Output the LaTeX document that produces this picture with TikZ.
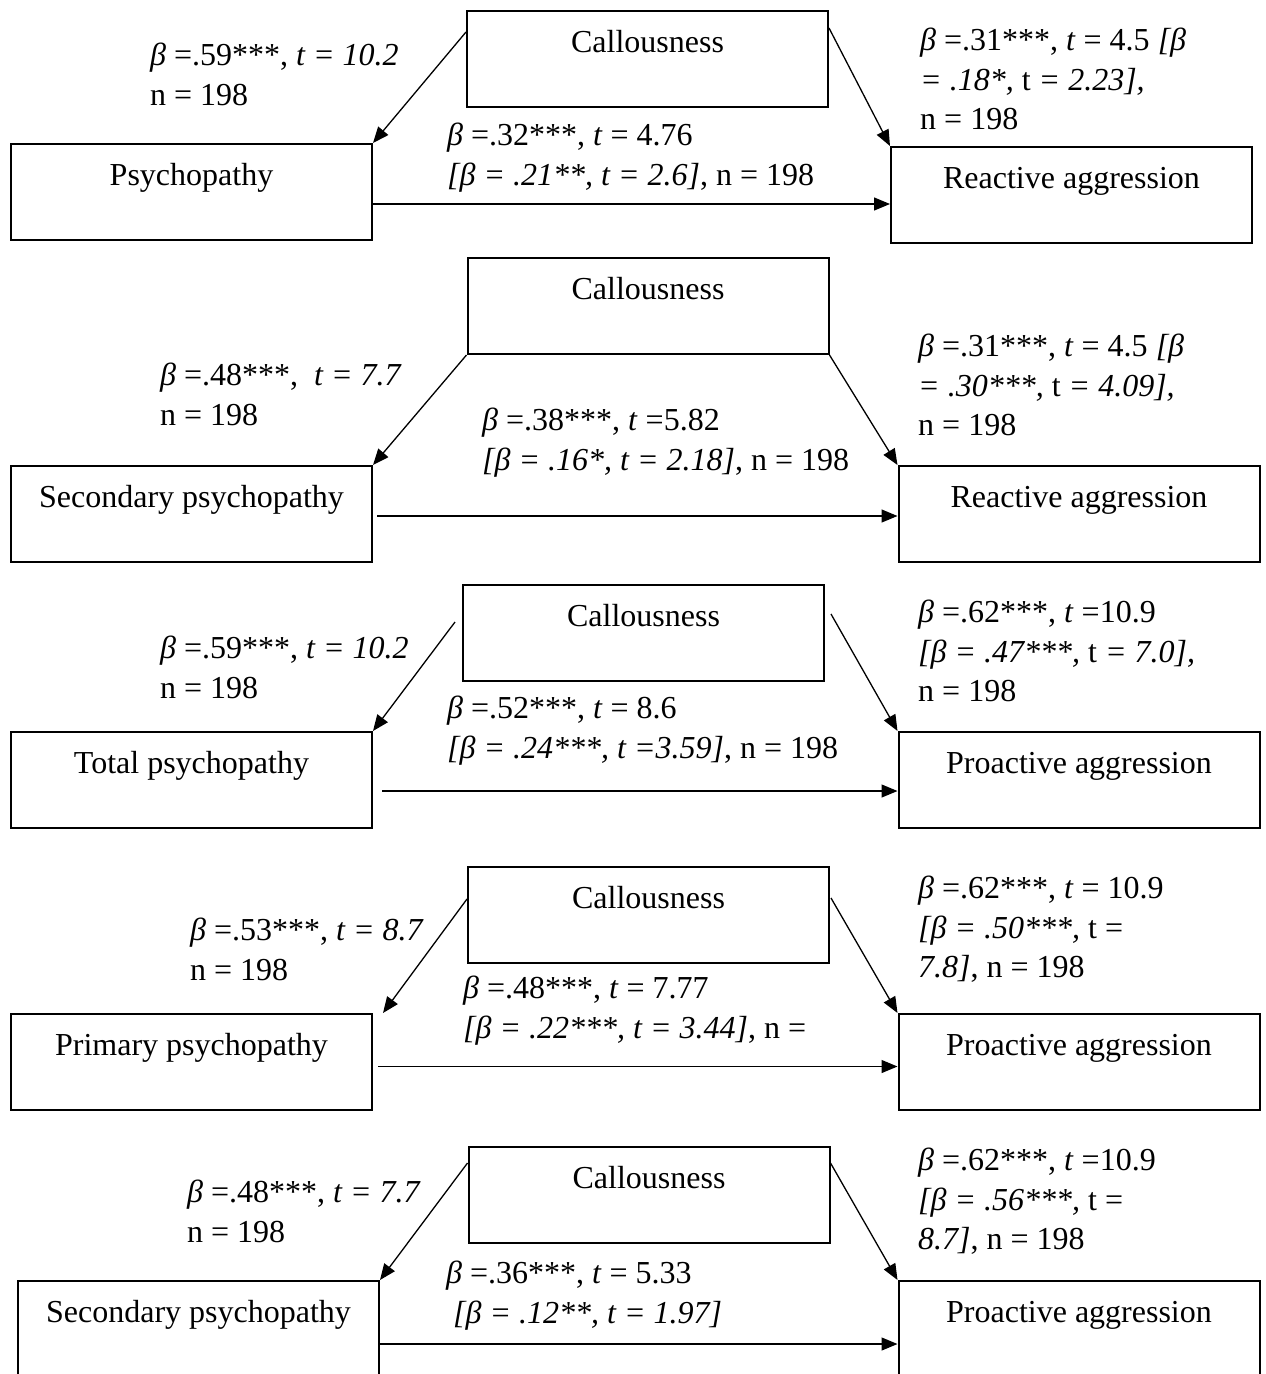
\documentclass[tikz,border=0pt]{standalone}
\usepackage{fontspec}
\setmainfont{Liberation Serif}
\usetikzlibrary{arrows.meta}
\begin{document}
\begin{tikzpicture}[x=1pt,y=-1pt,
  font=\fontsize{32}{39.5}\selectfont,
  box/.style={draw, line width=2pt, rectangle, inner sep=0pt, anchor=north,
    minimum width=361pt, text height=41pt, text depth=55pt},
  tallbox/.style={box, text depth=82pt},
  lab/.style={anchor=north west, inner sep=0pt, align=left},
  arr/.style={-{Triangle[length=16pt,width=13pt]}, line width=1.3pt}]
\fill[white] (0,0) rectangle (1266,1374);
\useasboundingbox (0,0) rectangle (1266,1374);

% ---------------- Panel 1
\node[box] (c1) at (647.5,10) {Callousness};
\node[box] (l1) at (191.5,143) {Psychopathy};
\node[box] (r1) at (1071.5,146) {Reactive aggression};
\node[lab] (a1) at (150,38) {\strut\textit{β} =.59***, \textit{t = 10.2}\\\strut n = 198};
\node[lab] (b1) at (447,118) {\strut\textit{β} =.32***, \textit{t} = 4.76\\\strut\textit{[β = .21**, t = 2.6]}, n = 198};
\node[lab] (d1) at (920,23) {\strut\textit{β} =.31***, \textit{t} = 4.5 \textit{[β}\\\strut\textit{= .18*,} t \textit{= 2.23],}\\\strut n = 198};
\draw[arr] ([yshift=-22pt]c1.north west) -- (l1.north east);
\draw[arr] ([yshift=-18pt]c1.north east) -- (r1.north west);
\coordinate (h1) at ([yshift=-12pt]l1.east);
\draw[arr] (h1) -- (h1 -| r1.west);

% ---------------- Panel 2
\node[box] (c2) at (648,257) {Callousness};
\node[box] (l2) at (191.5,465) {Secondary psychopathy};
\node[box] (r2) at (1079,465) {Reactive aggression};
\node[lab] (a2) at (160,358) {\strut\textit{β} =.48***, ~\textit{t = 7.7}\\\strut n = 198};
\node[lab] (b2) at (482,403) {\strut\textit{β} =.38***, \textit{t} =5.82\\\strut\textit{[β = .16*, t = 2.18]}, n = 198};
\node[lab] (d2) at (918,329) {\strut\textit{β} =.31***, \textit{t} = 4.5 \textit{[β}\\\strut\textit{= .30***,} t \textit{= 4.09],}\\\strut n = 198};
\draw[arr] (c2.south west) -- (l2.north east);
\draw[arr] (c2.south east) -- (r2.north west);
\coordinate (h2) at ([xshift=4pt,yshift=-2pt]l2.east);
\draw[arr] (h2) -- (h2 -| r2.west);

% ---------------- Panel 3
\node[box] (c3) at (643.5,584) {Callousness};
\node[box] (l3) at (191.5,731) {Total psychopathy};
\node[box] (r3) at (1079,731) {Proactive aggression};
\node[lab] (a3) at (160,631) {\strut\textit{β} =.59***, \textit{t = 10.2}\\\strut n = 198};
\node[lab] (b3) at (447,691) {\strut\textit{β} =.52***, \textit{t} = 8.6\\\strut\textit{[β = .24***, t =3.59]}, n = 198};
\node[lab] (d3) at (918,595) {\strut\textit{β} =.62***, \textit{t} =10.9\\\strut\textit{[β = .47***,} t \textit{= 7.0],}\\\strut n = 198};
\draw[arr] ([xshift=-7pt,yshift=-38pt]c3.north west) -- (l3.north east);
\draw[arr] ([xshift=6pt,yshift=-30pt]c3.north east) -- (r3.north west);
\coordinate (h3) at ([xshift=9pt,yshift=-11pt]l3.east);
\draw[arr] (h3) -- (h3 -| r3.west);

% ---------------- Panel 4
\node[box] (c4) at (648.5,866) {Callousness};
\node[box] (l4) at (191.5,1013) {Primary psychopathy};
\node[box] (r4) at (1079,1013) {Proactive aggression};
\node[lab] (a4) at (190,913) {\strut\textit{β} =.53***, \textit{t = 8.7}\\\strut n = 198};
\node[lab] (b4) at (463,971) {\strut\textit{β} =.48***, \textit{t} = 7.77\\\strut\textit{[β = .22***, t = 3.44]}, n =};
\node[lab] (d4) at (918,871) {\strut\textit{β} =.62***, \textit{t} = 10.9\\\strut\textit{[β = .50***,} t =\\\strut\textit{7.8]}, n = 198};
\draw[arr] ([yshift=-33pt]c4.north west) -- ([xshift=10pt]l4.north east);
\draw[arr] ([xshift=1pt,yshift=-32pt]c4.north east) -- (r4.north west);
\coordinate (h4) at ([xshift=5pt,yshift=-4.5pt]l4.east);
\draw[arr] (h4) -- (h4 -| r4.west);

% ---------------- Panel 5
\node[box] (c5) at (649,1146) {Callousness};
\node[tallbox] (l5) at (198.5,1280) {Secondary psychopathy};
\node[tallbox] (r5) at (1079,1280) {Proactive aggression};
\node[lab] (a5) at (187,1175) {\strut\textit{β} =.48***, \textit{t = 7.7}\\\strut n = 198};
\node[lab] (b5) at (446,1256) {\strut\textit{β} =.36***, \textit{t} = 5.33\\\strut\hspace{7pt}\textit{[β = .12**, t = 1.97]}};
\node[lab] (d5) at (918,1143) {\strut\textit{β} =.62***, \textit{t} =10.9\\\strut\textit{[β = .56***,} t =\\\strut\textit{8.7]}, n = 198};
\draw[arr] ([yshift=-17pt]c5.north west) -- (l5.north east);
\draw[arr] ([yshift=-17pt]c5.north east) -- (r5.north west);
\coordinate (h5) at ([yshift=-1.5pt]l5.east);
\draw[arr] (h5) -- (h5 -| r5.west);
\end{tikzpicture}
\end{document}
